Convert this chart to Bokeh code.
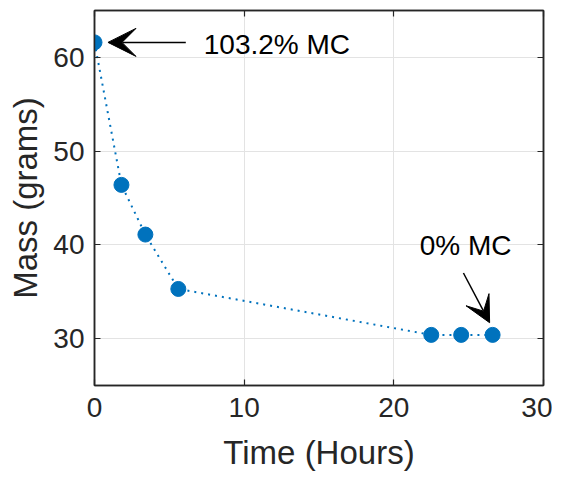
from bokeh.plotting import figure
from bokeh.models import Range1d, LinearAxis, FixedTicker, Arrow, VeeHead, Label
from bokeh.embed import file_html
from bokeh.resources import INLINE

time_hours = [0.0, 1.8, 3.4, 5.6, 22.5, 24.5, 26.6]
mass_grams = [61.6, 46.4, 41.1, 35.3, 30.4, 30.4, 30.4]
x_ticks = [0, 10, 20, 30]
y_ticks = [30, 40, 50, 60]
label_start = "103.2% MC"
label_end = "0% MC"

FONT = "Liberation Sans"
AX = "#262626"
BLUE = "#0072BD"

p = figure(width=552, height=477, output_backend="svg", toolbar_location=None,
           x_range=Range1d(0, 30), y_range=Range1d(25, 65),
           min_border_left=94, min_border_right=9, min_border_top=10, min_border_bottom=92)
p.outline_line_color = AX
p.outline_line_width = 1.5
p.background_fill_color = "white"
p.border_fill_color = "white"

for ax in (p.xaxis[0], p.yaxis[0]):
    ax.major_label_text_font = FONT
    ax.major_label_text_font_size = "28px"
    ax.major_label_text_color = AX
    ax.axis_label_text_font = FONT
    ax.axis_label_text_font_size = "33px"
    ax.axis_label_text_font_style = "normal"
    ax.axis_label_text_color = AX
    ax.axis_line_color = AX
    ax.axis_line_width = 1.5
    ax.major_tick_in = 6
    ax.major_tick_out = 0
    ax.major_tick_line_color = AX
    ax.major_tick_line_width = 1.2
    ax.minor_tick_line_color = None

p.xaxis[0].ticker = FixedTicker(ticks=x_ticks)
p.yaxis[0].ticker = FixedTicker(ticks=y_ticks)
p.xaxis[0].axis_label = "Time (Hours)"
p.yaxis[0].axis_label = "Mass (grams)"
p.xaxis[0].major_label_standoff = 12
p.yaxis[0].major_label_standoff = 10
p.xaxis[0].axis_label_standoff = 14
p.yaxis[0].axis_label_standoff = 6

# box ticks on top and right (no labels)
for loc in ("right", "above"):
    tk = y_ticks if loc == "right" else x_ticks
    a = LinearAxis(ticker=FixedTicker(ticks=tk),
                   major_label_overrides={t: "" for t in tk}, major_label_standoff=0,
                   major_tick_in=6, major_tick_out=0, major_tick_line_color=AX,
                   major_tick_line_width=1.2, minor_tick_line_color=None,
                   axis_line_color=AX, axis_line_width=1.5)
    p.add_layout(a, loc)

p.xgrid.ticker = FixedTicker(ticks=x_ticks)
p.ygrid.ticker = FixedTicker(ticks=y_ticks)
p.grid.grid_line_color = "#e3e3e3"
p.grid.grid_line_width = 1

p.line(time_hours, mass_grams, line_color=BLUE, line_width=2, line_dash="2 5")
p.scatter(time_hours, mass_grams, size=15, fill_color=BLUE, line_color=BLUE)

# annotations positioned relative to first / last data points
x0, y0 = time_hours[0], mass_grams[0]
p.add_layout(Arrow(end=VeeHead(size=28, fill_color="black", line_color="black"),
                   x_start=x0 + 6.1, y_start=y0, x_end=x0 + 0.9, y_end=y0,
                   line_color="black", line_width=1.5))
p.add_layout(Label(x=x0 + 7.3, y=y0 - 0.25, text=label_start, text_font=FONT,
                   text_font_size="28px", text_color="black", text_baseline="middle"))

x1, y1 = time_hours[-1], mass_grams[-1]
p.add_layout(Arrow(end=VeeHead(size=26, fill_color="black", line_color="black"),
                   x_start=x1 - 1.95, y_start=y1 + 6.6, x_end=x1 - 0.2, y_end=y1 + 1.3,
                   line_color="black", line_width=1.5))
p.add_layout(Label(x=x1 - 1.8, y=y1 + 9.5, text=label_end, text_font=FONT,
                   text_font_size="28px", text_color="black", text_baseline="middle",
                   text_align="center"))

open("out.html", "w").write(file_html(p, INLINE))
